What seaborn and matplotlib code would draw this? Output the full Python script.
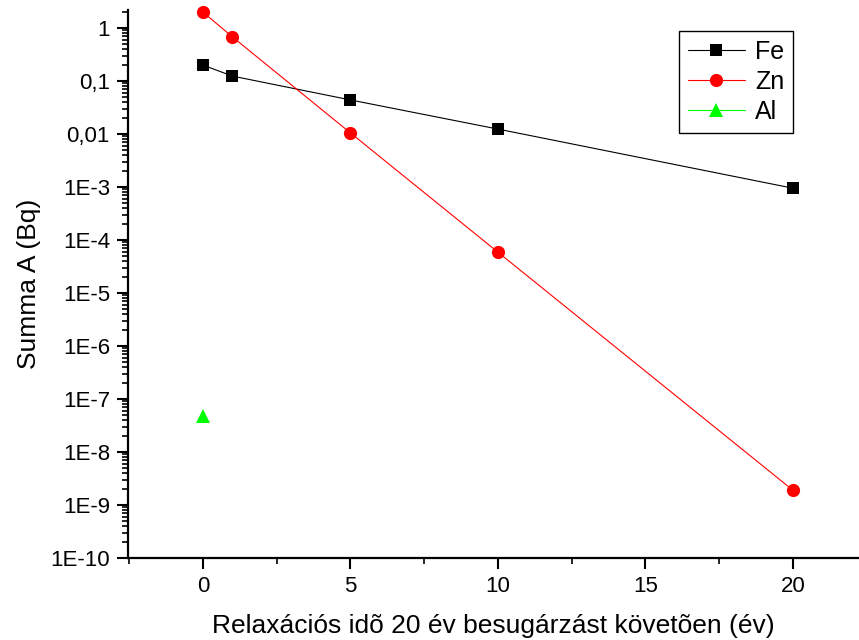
import numpy as np
import pandas as pd
import matplotlib
matplotlib.use("Agg")
import matplotlib.pyplot as plt
import matplotlib.ticker as mticker
import seaborn as sns

# Activity after irradiation, per element
fe_t = [0, 1, 5, 10, 20]
fe_a = [0.20, 0.124, 0.044, 0.0124, 9.5e-4]
zn_t = [0, 1, 5, 10, 20]
zn_a = [2.0, 0.68, 0.0105, 5.9e-5, 1.9e-9]
al_t = [0]
al_a = [4.8e-8]

y_ticks = [1e-10, 1e-9, 1e-8, 1e-7, 1e-6, 1e-5, 1e-4, 1e-3, 0.01, 0.1, 1]
y_tick_labels = ["1E-10", "1E-9", "1E-8", "1E-7", "1E-6", "1E-5", "1E-4",
                 "1E-3", "0,01", "0,1", "1"]
x_ticks = [0, 5, 10, 15, 20]

sns.set_theme(style="ticks")
plt.rcParams["font.family"] = ["Liberation Sans", "DejaVu Sans"]
plt.rcParams["text.color"] = "black"
plt.rcParams["axes.labelcolor"] = "black"

fig = plt.figure(figsize=(8.59, 6.4), dpi=100)
ax = fig.add_axes([128 / 859, 82 / 640, 731 / 859, 548 / 640])

series = [
    ("Fe", fe_t, fe_a, "black", "s", 8),
    ("Zn", zn_t, zn_a, "#ff0000", "o", 9.5),
    ("Al", al_t, al_a, "#00ff00", "^", 10),
]
for name, t, a, col, mk, ms in series:
    df = pd.DataFrame({"t": t, "a": a})
    sns.lineplot(data=df, x="t", y="a", ax=ax, color=col, marker=mk,
                 markersize=ms, markeredgewidth=0, linewidth=0.8,
                 label=name, clip_on=False, zorder=3)

ax.set_yscale("log")
ax.set_ylim(1e-10, 2.19)
ax.set_xlim(-2.54, 22.24)

ax.yaxis.set_major_locator(mticker.FixedLocator(y_ticks))
ax.yaxis.set_major_formatter(mticker.FixedFormatter(y_tick_labels))
ax.yaxis.set_minor_locator(mticker.LogLocator(base=10, subs=np.arange(2, 10), numticks=20))
ax.yaxis.set_minor_formatter(mticker.NullFormatter())
ax.xaxis.set_major_locator(mticker.FixedLocator(x_ticks))
ax.xaxis.set_minor_locator(mticker.MultipleLocator(2.5))

for s in ["top", "right"]:
    ax.spines[s].set_visible(False)
for s in ["left", "bottom"]:
    ax.spines[s].set_linewidth(1.6)
    ax.spines[s].set_color("black")

ax.tick_params(axis="both", which="major", direction="out", length=8, width=1.5,
               labelsize=16, colors="black", pad=5)
ax.tick_params(axis="both", which="minor", direction="out", length=4, width=1.2,
               colors="black")

ax.set_xlabel("Relaxációs idõ 20 év besugárzást követõen (év)", fontsize=19,
              labelpad=12, color="black")
ax.set_ylabel("Summa A (Bq)", fontsize=19, labelpad=7, color="black")

leg = ax.legend(loc="upper right", bbox_to_anchor=(0.91, 0.962), fontsize=18,
                frameon=True, fancybox=False, edgecolor="black", framealpha=1,
                borderpad=0.35, handlelength=2.3, handletextpad=0.4,
                labelspacing=0.25, borderaxespad=0)
leg.get_frame().set_linewidth(1.0)
for txt in leg.get_texts():
    txt.set_color("black")

fig.savefig("out.png", dpi=100)
